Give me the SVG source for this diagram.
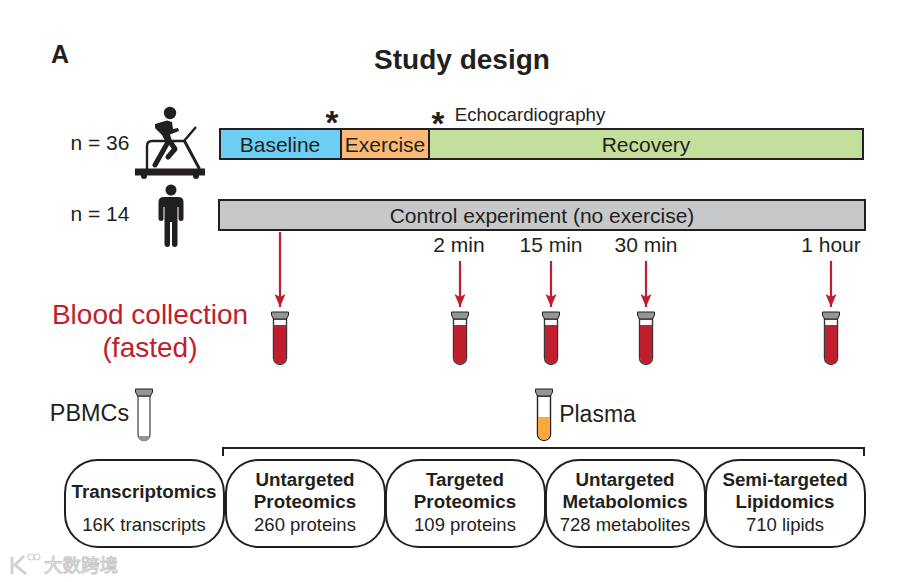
<svg xmlns="http://www.w3.org/2000/svg" xmlns:xlink="http://www.w3.org/1999/xlink" width="907" height="582" viewBox="0 0 907 582">
<style>
text{font-family:"Liberation Sans",Arial,sans-serif;fill:#231f20;text-anchor:middle}
.t20{font-size:21px}
.b{font-size:18.800px;font-weight:bold}
.s{font-size:18.500px}
.bar{stroke:#231f20;stroke-width:2}
.pill{fill:#fff;stroke:#231f20;stroke-width:2}
.red{font-size:28px;fill:#be1e2d}
.arr{stroke:#be1e2d;stroke-width:2.200;fill:none}
.limb{stroke:#231f20;fill:none;stroke-linecap:round;stroke-linejoin:round}
</style>
<defs>
<marker id="ah" markerUnits="userSpaceOnUse" markerWidth="13" markerHeight="11" refX="13" refY="5.500" orient="auto" viewBox="0 0 13 11"><path d="M0 0L13 5.500L0 11L3 5.500Z" fill="#be1e2d"/></marker>
<g id="cap"><path d="M-8.500 0H8.500V3L6.500 7H-6.500L-8.500 3Z" fill="#939598" stroke="#231f20" stroke-width="1"/></g>
<g id="blood"><path d="M-6.500 7V46a6.500 6.500 0 0 0 13 0V7Z" fill="#fff" stroke="#3a3536" stroke-width="1.400"/><path d="M-6 13H6V46a6 6 0 0 1-12 0Z" fill="#be1e2d"/><use xlink:href="#cap"/></g>
</defs>
<rect width="907" height="582" fill="#fff"/>
<text x="60" y="63" font-size="25" font-weight="bold">A</text>
<text x="462" y="69" font-size="28" font-weight="bold">Study design</text>

<g id="n36-label"><text class="t20" x="100" y="150">n = 36</text></g>
<g id="n14-label"><text class="t20" x="100" y="221">n = 14</text></g>

<g id="treadmill">
<circle cx="170" cy="113" r="6.200" fill="#231f20"/>
<path d="M155 124L167 120.500L172 122L173 129L178 128L179 131L170 134.500L172 141L166 143L162 135L155 128Z" fill="#231f20"/>
<path class="limb" d="M168 142L155 165" stroke-width="5"/>
<path class="limb" d="M171 143L175 149L168 157" stroke-width="5"/>
<path d="M147 170V146Q147 141 152 141H184L196 127" fill="none" stroke="#231f20" stroke-width="2.400"/>
<path d="M184.500 141L199.500 169" stroke="#231f20" stroke-width="3" fill="none"/>
<path d="M135 168.500H205V175.500H135Z" fill="#231f20"/>
<circle cx="144" cy="176" r="3" fill="#231f20"/><circle cx="196" cy="176" r="3" fill="#231f20"/>
</g>
<g id="person">
<circle cx="171" cy="190" r="5.500" fill="#231f20"/>
<path d="M158.500 202Q158.500 197 164 197H178Q183.500 197 183.500 202V219Q183.500 221 181 221Q178.500 221 178.500 219V207H177.500V244Q177.500 247 174.500 247Q172 247 172 244V222H170V244Q170 247 167.500 247Q164.500 247 164.500 244V207H163.500V219Q163.500 221 161 221Q158.500 221 158.500 219Z" fill="#231f20"/>
</g>

<g id="baseline"><rect class="bar" x="220" y="129" width="121" height="30" fill="#6dcff6"/><text class="t20" x="280" y="152">Baseline</text></g>
<g id="exercise"><rect class="bar" x="341" y="129" width="88" height="30" fill="#fbb975"/><text class="t20" x="385" y="152">Exercise</text></g>
<g id="recovery"><rect class="bar" x="429" y="129" width="434" height="30" fill="#c4df9b"/><text class="t20" x="646" y="152">Recovery</text></g>
<g id="control"><rect class="bar" x="219" y="200" width="646" height="30" fill="#c7c8ca"/><text class="t20" x="542" y="223">Control experiment (no exercise)</text></g>

<text x="332" y="134" font-size="33" font-weight="bold">*</text>
<text x="438" y="135" font-size="33" font-weight="bold">*</text>
<text x="530" y="121" font-size="18.700">Echocardiography</text>

<text class="t20" x="459" y="252">2 min</text>
<text class="t20" x="551" y="252">15 min</text>
<text class="t20" x="646" y="252">30 min</text>
<text class="t20" x="831" y="252">1 hour</text>

<g id="connectors">
<path class="arr" d="M280 232V307" marker-end="url(#ah)"/>
<path class="arr" d="M460 261V307" marker-end="url(#ah)"/>
<path class="arr" d="M551 261V307" marker-end="url(#ah)"/>
<path class="arr" d="M646 261V307" marker-end="url(#ah)"/>
<path class="arr" d="M831 261V307" marker-end="url(#ah)"/>
<path d="M223 456V448H864V456" fill="none" stroke="#231f20" stroke-width="2"/>
</g>

<text class="red" x="150" y="324">Blood collection</text>
<text class="red" x="150" y="357">(fasted)</text>

<g id="tube-0"><use xlink:href="#blood" x="280" y="312"/></g>
<g id="tube-2"><use xlink:href="#blood" x="460" y="312"/></g>
<g id="tube-15"><use xlink:href="#blood" x="551" y="312"/></g>
<g id="tube-30"><use xlink:href="#blood" x="646" y="312"/></g>
<g id="tube-60"><use xlink:href="#blood" x="831" y="312"/></g>

<g id="pbmc"><text x="89.500" y="421" font-size="23.400">PBMCs</text>
<path d="M138 396V434.500a6 6 0 0 0 12 0V396Z" fill="#fff" stroke="#58595b" stroke-width="1.400"/>
<path d="M138.500 436H149.500a5.500 5 0 0 1-11 0Z" fill="#939598"/>
<use xlink:href="#cap" x="144" y="389"/></g>
<g id="plasma"><text x="597.500" y="422" font-size="23">Plasma</text>
<path d="M537.500 396V434a6.500 6.500 0 0 0 13 0V396Z" fill="#fff" stroke="#231f20" stroke-width="1.400"/>
<path d="M538 417H550V434a6 6 0 0 1-12 0Z" fill="#f9a93c"/>
<use xlink:href="#cap" x="544" y="389"/></g>

<g id="transcriptomics"><rect class="pill" x="65" y="460" width="159" height="87" rx="33"/><text class="b" x="144" y="498">Transcriptomics</text><text class="s" x="144" y="531">16K transcripts</text></g>
<g id="untargeted-proteomics"><rect class="pill" x="226" y="460" width="159" height="87" rx="33"/><text class="b" x="305" y="486">Untargeted</text><text class="b" x="305" y="508">Proteomics</text><text class="s" x="305" y="531">260 proteins</text></g>
<g id="targeted-proteomics"><rect class="pill" x="386" y="460" width="159" height="87" rx="33"/><text class="b" x="465" y="486">Targeted</text><text class="b" x="465" y="508">Proteomics</text><text class="s" x="465" y="531">109 proteins</text></g>
<g id="untargeted-metabolomics"><rect class="pill" x="546" y="460" width="159" height="87" rx="33"/><text class="b" x="625" y="486">Untargeted</text><text class="b" x="625" y="508">Metabolomics</text><text class="s" x="625" y="531">728 metabolites</text></g>
<g id="lipidomics"><rect class="pill" x="706" y="460" width="159" height="87" rx="33"/><text class="b" x="785" y="486">Semi-targeted</text><text class="b" x="785" y="508">Lipidomics</text><text class="s" x="785" y="531">710 lipids</text></g>

<g id="watermark">
<path d="M12 557V574M24 556L15 565L26 574" fill="none" stroke="#d2d2d2" stroke-width="3"/>
<circle cx="31" cy="557" r="3" fill="none" stroke="#d2d2d2" stroke-width="1.200"/><circle cx="37" cy="557" r="3" fill="none" stroke="#d2d2d2" stroke-width="1.200"/>
<text x="81" y="572" font-size="18.500" style="font-family:'Noto Sans CJK SC',sans-serif;fill:#fff;stroke:#c9c9c9;stroke-width:1">大数跨境</text></g>
</svg>
